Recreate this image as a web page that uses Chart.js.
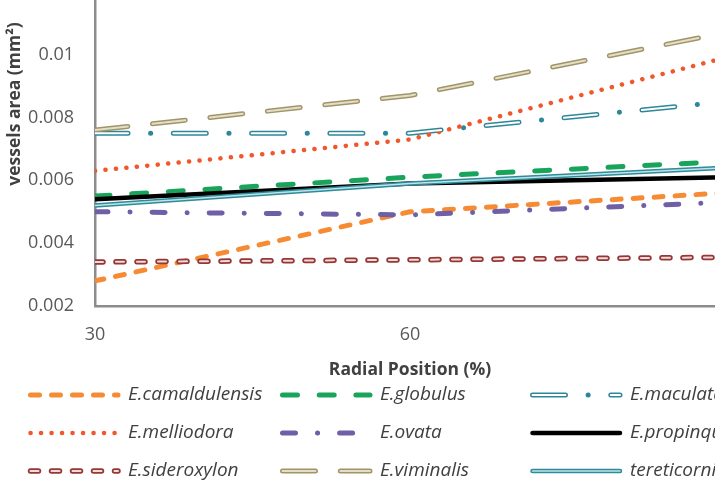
<!DOCTYPE html>
<html><head><meta charset="utf-8">
<script src="https://cdn.jsdelivr.net/npm/chart.js@4.4.1/dist/chart.umd.min.js"></script>
<style>
html,body{margin:0;padding:0;width:715px;height:495px;overflow:hidden;background:#fff;}
#wrap{position:absolute;left:0;top:-40px;width:800px;height:540px;}
</style></head><body>
<div id="wrap"><canvas id="c" width="800" height="540"></canvas></div>
<script>
const radialPositions = [30, 60, 90];
const seriesNames = ['E.camaldulensis','E.globulus','E.maculata','E.melliodora','E.ovata','E.propinqua','E.sideroxylon','E.viminalis','tereticornis'];
const camaldulensis = [0.0028, 0.0050, 0.0056];
const globulus      = [0.0055, 0.0061, 0.0066];
const maculata      = [0.0075, 0.0075, 0.0085];
const melliodora    = [0.0063, 0.0073, 0.0099];
const ovata         = [0.0050, 0.0049, 0.0053];
const propinqua     = [0.0054, 0.0059, 0.0061];
const sideroxylon   = [0.0034, 0.00347, 0.00355];
const viminalis     = [0.0076, 0.0087, 0.0107];
const tereticornis  = [0.0052, 0.0059, 0.0064];
const yTitle = 'vessels area (mm\u00B2)';
const xTitle = 'Radial Position (%)';
const FONT = '"Open Sans"';

const seriesValues = [camaldulensis, globulus, maculata, melliodora, ovata, propinqua, sideroxylon, viminalis, tereticornis];
const styles = [
  {c:'#F68B33', w:5, dash:[9,12]},
  {c:'#18A45B', w:5, dash:[15,21.7]},
  {c:'#2E8799', w:5, dash:[33,22.6,0.1,22.6], inner:{c:'#ffffff', w:2, dash:[33,45.3]}},
  {c:'#F2572B', w:4.5, dash:[0.1,10.4]},
  {c:'#6F5FA6', w:5, dash:[13,22,0.1,22]},
  {c:'#000000', w:4.5, dash:[]},
  {c:'#953735', w:5.5, dash:[8,13], inner:{c:'#F2DCDB', w:2, dash:[8,13]}},
  {c:'#A09468', w:5, dash:[33,24.8], inner:{c:'#E4DEC6', w:2, dash:[33,24.8]}},
  {c:'#2E8B9A', w:4.5, dash:[], inner:{c:'#BFE3E8', w:1.5, dash:[]}}
];

const datasets = [];
seriesNames.forEach((name, i) => {
  const s = styles[i];
  datasets.push({
    label: name,
    data: radialPositions.map((x, j) => ({x: x, y: seriesValues[i][j]})),
    borderColor: s.c, borderWidth: s.w, borderDash: s.dash,
    borderCapStyle: 'round', borderJoinStyle: 'round',
    pointRadius: 0, tension: 0, fill: false, order: 20 - i, legendSlot: i
  });
  if (s.inner) {
    datasets.push({
      label: name + ' inner',
      data: radialPositions.map((x, j) => ({x: x, y: seriesValues[i][j]})),
      borderColor: s.inner.c, borderWidth: s.inner.w, borderDash: s.inner.dash,
      borderCapStyle: 'round', borderJoinStyle: 'round',
      pointRadius: 0, tension: 0, fill: false, order: 10 - i, overlayOf: i
    });
  }
});

const customDraw = {
  id: 'customDraw',
  afterDraw(chart) {
    const ctx = chart.ctx;
    ctx.save();
    ctx.translate(15, 144);
    ctx.rotate(-Math.PI / 2);
    ctx.font = 'bold 17.5px ' + FONT;
    ctx.fillStyle = '#404040';
    ctx.textAlign = 'center';
    ctx.textBaseline = 'middle';
    ctx.fillText(yTitle, 0, 0);
    ctx.restore();

    const cols = [28, 280, 530];
    const rows = [435, 473, 511];
    const ds = chart.data.datasets;
    ds.forEach(d => {
      if (d.legendSlot === undefined) return;
      const i = d.legendSlot;
      const x0 = cols[i % 3], y = rows[Math.floor(i / 3)];
      const strokeSample = (dd) => {
        ctx.save();
        ctx.beginPath();
        ctx.strokeStyle = dd.borderColor;
        ctx.lineWidth = dd.borderWidth;
        ctx.setLineDash(dd.borderDash || []);
        ctx.lineCap = 'round';
        ctx.moveTo(x0 + 2.5, y);
        ctx.lineTo(x0 + 90, y);
        ctx.stroke();
        ctx.restore();
      };
      strokeSample(d);
      const inner = ds.find(o => o.overlayOf === i);
      if (inner) strokeSample(inner);
      ctx.save();
      ctx.font = 'italic 19px ' + FONT;
      ctx.fillStyle = '#404040';
      ctx.textAlign = 'left';
      ctx.textBaseline = 'middle';
      ctx.fillText(d.label, x0 + 100, y);
      ctx.restore();
    });
  }
};

new Chart(document.getElementById('c'), {
  type: 'line',
  data: { datasets: datasets },
  options: {
    responsive: false,
    animation: false,
    devicePixelRatio: 1,
    layout: { padding: { top: 26, left: 0, right: 75, bottom: 115 } },
    plugins: { legend: { display: false }, tooltip: { enabled: false } },
    scales: {
      x: {
        type: 'linear', min: 30, max: 90,
        grid: { display: false, drawTicks: false },
        border: { display: true, color: '#8C8C8C', width: 2.5 },
        ticks: { stepSize: 30, padding: 18, color: '#595959', font: { family: FONT, size: 18 } },
        title: { display: true, text: xTitle, color: '#404040', font: { family: FONT, size: 17.5, weight: 'bold' } },
        afterFit(scale) { scale.height = 79; }
      },
      y: {
        min: 0.002, max: 0.012,
        grid: { display: false, drawTicks: false },
        border: { display: true, color: '#8C8C8C', width: 2.5 },
        ticks: { stepSize: 0.002, padding: 21, color: '#595959', font: { family: FONT, size: 18 },
          callback: (v) => String(Number(v.toFixed(4))) },
        afterFit(scale) { scale.width = 95; }
      }
    }
  },
  plugins: [customDraw]
});
</script>
</body></html>
